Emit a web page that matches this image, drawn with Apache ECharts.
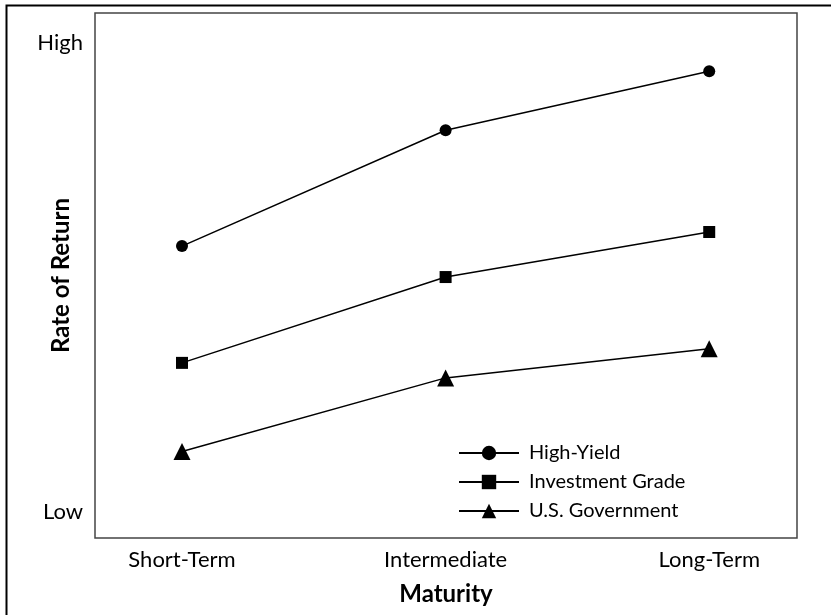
<!DOCTYPE html>
<html>
<head>
<meta charset="utf-8">
<script src="https://cdn.jsdelivr.net/npm/echarts@6/dist/echarts.min.js"></script>
<style>
html,body{margin:0;padding:0;background:#fff;}
#chart{width:831px;height:615px;}
</style>
</head>
<body>
<div id="chart"></div>
<script>
var categories = ['Short-Term', 'Intermediate', 'Long-Term'];
var yTickLabels = ['Low', 'High'];
var highYield = [56.7, 81.4, 94.0];
var investmentGrade = [31.8, 50.1, 59.7];
var usGovernment = [12.9, 28.6, 34.8];

function pts(arr) { return arr.map(function (v, i) { return [i, v]; }); }

var chart = echarts.init(document.getElementById('chart'));
var FONT = 'Lato';
var lineStyle = { color: '#000', width: 1.5 };
chart.setOption({
  animation: false,
  backgroundColor: '#fff',
  textStyle: { fontFamily: FONT },
  graphic: [{
    type: 'rect', left: 4, top: 3,
    shape: { width: 826, height: 620 },
    style: { fill: 'none', stroke: '#000', lineWidth: 2 }
  }],
  grid: { left: 95, top: 13, right: 34, bottom: 77, show: true, borderColor: '#444', borderWidth: 1.5 },
  xAxis: {
    type: 'value', min: -0.33, max: 2.333,
    name: 'Maturity', nameLocation: 'middle', nameGap: 44, nameMoveOverlap: false,
    nameTextStyle: { fontFamily: FONT, fontWeight: 'bold', fontSize: 24, color: '#000' },
    axisLine: { show: false }, axisTick: { show: false }, splitLine: { show: false },
    axisLabel: {
      customValues: [0, 1, 2], margin: 11, fontSize: 22, color: '#000', fontFamily: FONT,
      formatter: function (v) { return categories[Math.round(v)]; }
    }
  },
  yAxis: {
    type: 'value', min: -5.54, max: 106.4,
    name: 'Rate of Return', nameLocation: 'middle', nameGap: 22, nameMoveOverlap: false,
    nameTextStyle: { fontFamily: FONT, fontWeight: 'bold', fontSize: 24, color: '#000' },
    axisLine: { show: false }, axisTick: { show: false }, splitLine: { show: false },
    axisLabel: {
      customValues: [0, 100], margin: 12, fontSize: 22, color: '#000', fontFamily: FONT,
      formatter: function (v) { return v < 50 ? yTickLabels[0] : yTickLabels[1]; }
    }
  },
  legend: {
    orient: 'vertical', left: 453, top: 438, itemWidth: 60, itemHeight: 18, itemGap: 9,
    textStyle: { fontFamily: FONT, fontSize: 20, color: '#000', padding: [0, 0, 0, 5] },
    data: ['High-Yield', 'Investment Grade', 'U.S. Government']
  },
  series: [
    { name: 'High-Yield', type: 'line', data: pts(highYield), symbol: 'circle', symbolSize: 12,
      itemStyle: { color: '#000' }, lineStyle: lineStyle },
    { name: 'Investment Grade', type: 'line', data: pts(investmentGrade), symbol: 'rect', symbolSize: 12,
      itemStyle: { color: '#000' }, lineStyle: lineStyle },
    { name: 'U.S. Government', type: 'line', data: pts(usGovernment), symbol: 'triangle', symbolSize: 17,
      itemStyle: { color: '#000' }, lineStyle: lineStyle }
  ]
});
</script>
</body>
</html>
